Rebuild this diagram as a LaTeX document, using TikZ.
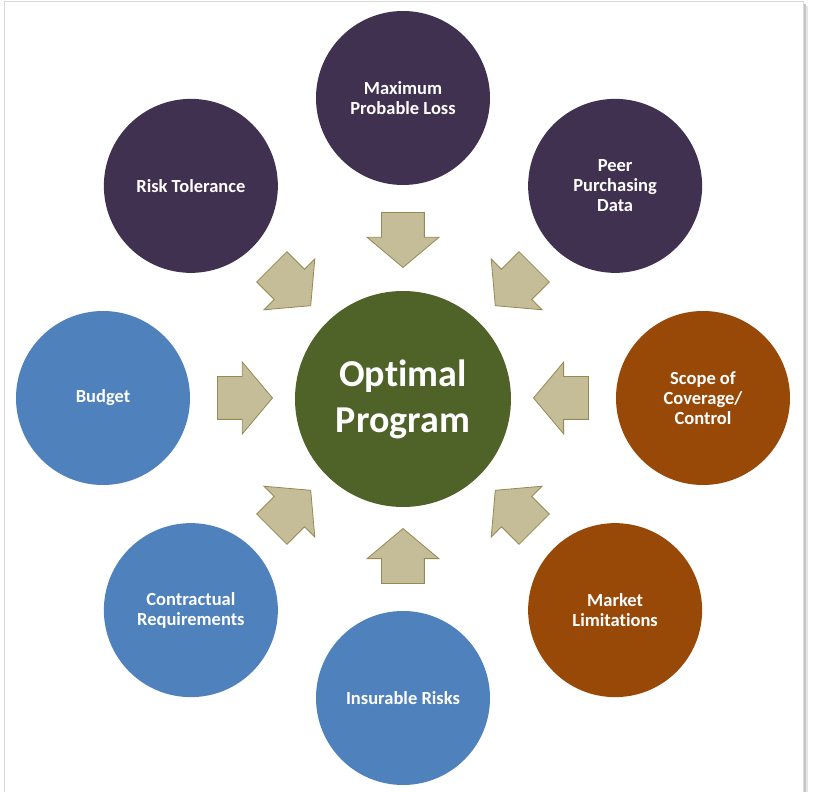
\documentclass[tikz,border=0pt]{standalone}
\usepackage{fontspec}
\setmainfont{Carlito}[RawFeature={-liga;-clig;-dlig}]
\usetikzlibrary{shapes.arrows}

\definecolor{plum}{HTML}{403151}
\definecolor{progGreen}{HTML}{4F6228}
\definecolor{steel}{HTML}{4F81BD}
\definecolor{rust}{HTML}{984807}
\definecolor{sand}{HTML}{C4BD97}
\definecolor{sandline}{HTML}{948A54}

\begin{document}
\begin{tikzpicture}[x=1pt,y=1pt,
    factor/.style={circle,minimum size=174pt,inner sep=0pt,text=white,align=center,
        font=\bfseries\fontsize{18.5}{20}\selectfont},
    goal/.style={circle,fill=progGreen,minimum size=216pt,inner sep=0pt,text=white,align=center,
        font=\bfseries\fontsize{38}{46}\selectfont},
    push/.style={single arrow,draw=sandline,fill=sand,line width=0.8pt,inner sep=0pt,
        text height=21pt,text depth=21pt,minimum height=55pt,minimum width=71pt,
        single arrow head extend=14.5pt,single arrow tip angle=100}]

    \useasboundingbox (-403,-394) rectangle (433,398);

    % frame and its shadow
    \draw[gray!45,line width=2.5pt] (401.5,-400) -- (401.5,394);
    \draw[gray!20,line width=2pt] (403.5,-400) -- (403.5,392);
    \draw[gray!30,line width=1pt] (-398,-400) -- (-398,396) -- (400,396) -- (400,-400);

    \node[goal] (prog) at (0,-1) {Opt{}imal\\Program};

    \node[factor,fill=plum] (loss) at (90:300pt) {Maximum\\Probable Loss};
    \node[factor,fill=plum] (peer) at (45:300pt) {Peer\\Purchasing\\Data};
    \node[factor,fill=rust] (scope) at (0:300pt) {Scope of\\Coverage/\\Control};
    \node[factor,fill=rust] (market) at (-45:300pt) {Market\\Limitations};
    \node[factor,fill=steel] (insure) at (-90:300pt) {Insurable Risks};
    \node[factor,fill=steel] (contract) at (-135:300pt) {Contractual\\Requirements};
    \node[factor,fill=steel] (budget) at (180:300pt) {Budget};
    \node[factor,fill=plum] (risk) at (135:300pt) {Risk Tolerance};

    % block arrows pointing in
    \foreach \ang/\nm in {90/loss,45/peer,0/scope,-45/market,-90/insure,-135/contract,180/budget,135/risk}
        \node[push,anchor=tip,rotate=\ang+180] (push-\nm) at (\ang:130pt) {};

\end{tikzpicture}
\end{document}
